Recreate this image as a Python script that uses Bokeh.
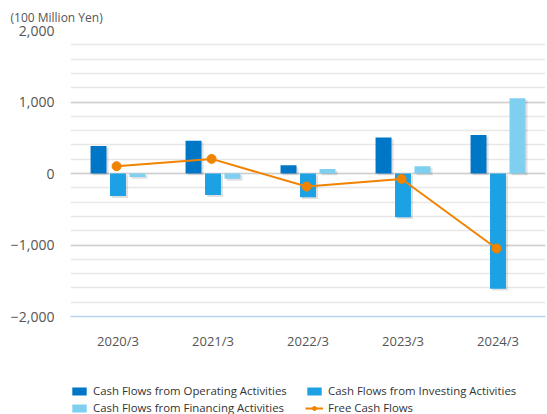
from bokeh.plotting import figure
from bokeh.layouts import column
from bokeh.models import (FactorRange, Range1d, ColumnDataSource, Legend, LegendItem,
                          FixedTicker)
from bokeh.transform import dodge
from bokeh.embed import file_html
from bokeh.resources import INLINE

categories = ["2020/3", "2021/3", "2022/3", "2023/3", "2024/3"]
operating = [386, 458, 114, 503, 538]
investing = [-316, -302, -333, -611, -1612]
financing = [-50, -75, 62, 102, 1052]
free_cf = [102, 204, -183, -76, -1049]
y_ticks = [-2000, -1000, 0, 1000, 2000]
unit_label = "(100 Million Yen)"
series_names = ["Cash Flows from Operating Activities",
                "Cash Flows from Investing Activities",
                "Cash Flows from Financing Activities",
                "Free Cash Flows"]

C_OP = "#0077c6"
C_INV = "#1ca1e4"
C_FIN = "#7fd0f0"
C_FCF = "#f08300"
FONT = "Open Sans"

src = ColumnDataSource(dict(
    cat=categories, op=operating, inv=investing, fin=financing, fcf=free_cf,
    op_s=[v - 25 for v in operating], inv_s=[v - 25 for v in investing],
    fin_s=[v - 25 for v in financing],
))

p = figure(width=547, height=366, x_range=FactorRange(*categories),
           y_range=Range1d(-2000, 2000), output_backend="svg",
           toolbar_location=None, min_border_left=70, min_border_right=2,
           min_border_top=30, min_border_bottom=50)
p.outline_line_color = None
p.background_fill_color = "white"

p.title.text = unit_label
p.title.align = "left"
p.title.offset = -60
p.title.standoff = 10
p.title.text_font = FONT
p.title.text_font_size = "12px"
p.title.text_font_style = "normal"
p.title.text_color = "#555555"

W = 0.168
OFF = 0.205
SH = 0.022

# shadows
for col, off in (("op_s", -OFF), ("inv_s", 0.0), ("fin_s", OFF)):
    p.vbar(x=dodge("cat", off + SH, range=p.x_range), top=col, bottom=-25, width=W,
           source=src, fill_color="black", fill_alpha=0.12, line_color=None)

p.vbar(x=dodge("cat", -OFF, range=p.x_range), top="op", bottom=0, width=W,
       source=src, fill_color=C_OP, line_color=None)
p.vbar(x=dodge("cat", 0.0, range=p.x_range), top="inv", bottom=0, width=W,
       source=src, fill_color=C_INV, line_color=None)
p.vbar(x=dodge("cat", OFF, range=p.x_range), top="fin", bottom=0, width=W,
       source=src, fill_color=C_FIN, line_color=None)
p.line(x=dodge("cat", -0.015, range=p.x_range), y="fcf", source=src,
       line_color=C_FCF, line_width=2)
p.scatter(x=dodge("cat", -0.015, range=p.x_range), y="fcf", source=src,
          size=9, fill_color=C_FCF, line_color=C_FCF)

# grid
p.xgrid.grid_line_color = None
p.ygrid.ticker = FixedTicker(ticks=y_ticks, minor_ticks=list(range(-2000, 2001, 200)))
p.ygrid.grid_line_color = "#cfcfcf"
p.ygrid.grid_line_width = 1.5
p.ygrid.minor_grid_line_color = "#e8e8e8"
p.ygrid.minor_grid_line_width = 1.5

# y axis
p.yaxis.ticker = FixedTicker(ticks=y_ticks)
p.yaxis.axis_line_color = None
p.yaxis.major_tick_line_color = None
p.yaxis.minor_tick_line_color = None
p.yaxis.major_label_standoff = 10
p.yaxis.major_label_text_font = FONT
p.yaxis.major_label_text_font_size = "14px"
p.yaxis.major_label_text_color = "#555555"
p.yaxis.major_label_overrides = {t: f"{t:,}".replace("-", "\u2212") for t in y_ticks}

# x axis
p.xaxis.axis_line_color = "#b7d3ee"
p.xaxis.axis_line_width = 1.5
p.xaxis.major_tick_line_color = None
p.xaxis.minor_tick_line_color = None
p.xaxis.major_label_standoff = 9
p.xaxis.major_label_text_font = FONT
p.xaxis.major_label_text_font_size = "13px"
p.xaxis.major_label_text_color = "#555555"

# legend panel (its frame is aligned with the chart's frame by the column layout)
lf = figure(width=547, height=48, x_range=Range1d(0, 1), y_range=Range1d(0, 1),
            x_axis_type=None, y_axis_type=None,
            output_backend="svg", toolbar_location=None,
            min_border=0, min_border_left=0, min_border_right=0,
            min_border_top=0, min_border_bottom=0)
lf.outline_line_color = None
lf.grid.visible = False
off_x, off_y = [-10], [-10]
l_op = lf.vbar(x=off_x, top=off_y, width=1, fill_color=C_OP, line_color=None)
l_inv = lf.vbar(x=off_x, top=off_y, width=1, fill_color=C_INV, line_color=None)
l_fin = lf.vbar(x=off_x, top=off_y, width=1, fill_color=C_FIN, line_color=None)
l_line = lf.line(x=off_x, y=off_y, line_color=C_FCF, line_width=2)
l_pts = lf.scatter(x=off_x, y=off_y, size=8, fill_color=C_FCF, line_color=C_FCF)

legend = Legend(items=[
    LegendItem(label=series_names[0], renderers=[l_op]),
    LegendItem(label=series_names[1], renderers=[l_inv]),
    LegendItem(label=series_names[2], renderers=[l_fin]),
    LegendItem(label=series_names[3], renderers=[l_line, l_pts]),
], location=(0, -1), orientation="horizontal", ncols=2,
    label_text_font=FONT, label_text_font_size="11.4px", label_text_color="#333333",
    glyph_width=18, glyph_height=10, label_height=15, label_width=210,
    label_standoff=5, spacing=2, padding=0, margin=0,
    border_line_color=None, background_fill_alpha=0)
lf.add_layout(legend)

layout = column(p, lf, spacing=0)
open("out.html", "w").write(file_html(layout, INLINE))
